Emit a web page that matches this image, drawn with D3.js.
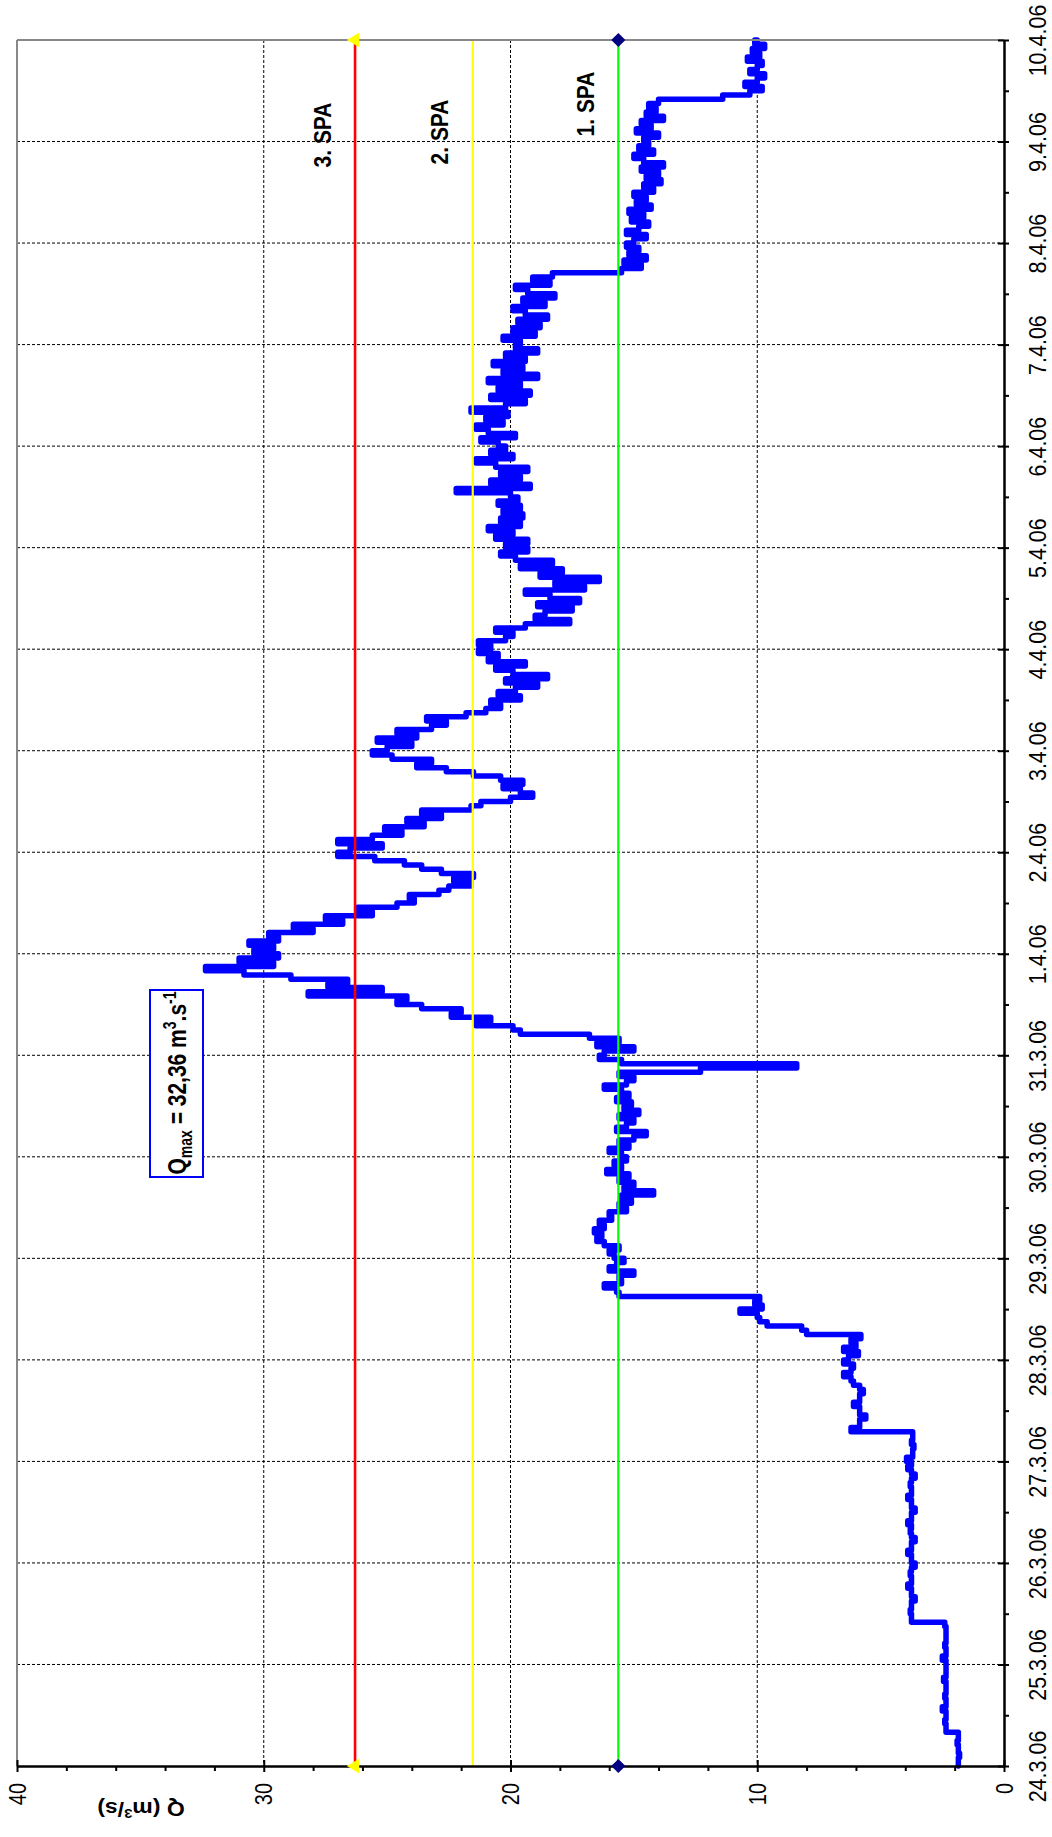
<!DOCTYPE html>
<html>
<head>
<meta charset="utf-8">
<script src="https://cdn.jsdelivr.net/npm/d3@7"></script>
<style>
  body { margin: 0; background: #fff; }
  svg { display: block; }
</style>
</head>
<body>
<svg id="chart" width="1052" height="1837"></svg>
<script>
// Period covered by the hydrograph (hourly readings, UTC to avoid DST jumps)
const startDate = new Date(Date.UTC(2006, 2, 24));
const endDate = new Date(Date.UTC(2006, 3, 10));

// Discharge Q (m3/s), one value per hour, one row per day starting 24.3.06 00:00
const discharge = [
  1.85,1.85,1.8,1.85,1.85,1.9,1.85,1.85,2.35,2.35,2.4,2.35,2.35,2.5,2.35,2.35,2.4,2.35,2.35,2.35,2.45,2.35,2.35,2.35,
  2.35,2.5,2.35,2.35,2.4,2.35,2.35,2.35,2.35,2.4,3.75,3.75,3.8,3.75,3.75,3.6,3.75,3.75,3.9,3.75,3.75,3.8,3.75,3.6,
  3.75,3.75,3.9,3.75,3.75,3.6,3.75,3.8,3.75,3.9,3.75,3.75,3.6,3.75,3.75,3.9,3.75,3.75,3.8,3.75,3.6,3.75,3.9,3.75,
  3.95,3.7,3.7,3.65,3.75,3.7,3.7,6.2,5.85,5.85,5.6,5.85,5.85,6.1,5.85,5.85,5.7,5.85,6.1,6.2,6.5,6.2,6.1,6.5,
  6.3,5.9,6.5,6.0,6.2,5.8,8.0,8.2,9.6,9.9,10.0,10.7,9.8,10.1,9.9,15.6,15.7,16.2,15.5,15.6,15.0,16.0,15.7,15.4,
  15.8,16.0,15.6,16.2,16.5,16.3,16.6,16.2,16.4,15.9,16.0,15.3,15.6,15.1,15.5,14.2,15.4,15.0,15.6,15.2,16.1,15.5,15.8,15.3,
  15.5,16.0,15.2,15.6,15.0,14.5,15.7,15.3,15.0,15.6,14.8,15.4,15.1,15.7,15.2,15.5,16.2,15.3,15.0,15.6,12.3,8.4,15.5,16.4,
  16.2,15.0,16.5,15.6,16.8,19.6,19.9,21.4,20.8,22.4,22.0,23.6,24.6,24.2,28.2,25.2,27.4,26.6,28.9,30.8,32.36,29.6,31.0,29.4,
  30.4,29.6,30.6,29.4,29.8,28.0,28.8,26.8,27.5,25.6,26.2,24.6,23.9,24.1,22.9,22.5,21.6,22.3,21.5,22.8,23.6,24.3,25.5,27.0,
  26.5,25.2,27.0,25.6,24.4,25.1,23.5,24.2,22.8,23.6,21.6,21.2,20.0,19.1,19.6,20.3,19.5,20.4,21.5,22.6,23.8,23.2,24.8,25.6,
  25.0,24.0,25.4,23.8,24.6,23.2,22.6,23.4,21.8,21.0,20.4,20.8,19.6,20.5,19.8,18.9,20.2,18.5,19.9,20.6,19.4,20.9,20.5,21.3,
  20.8,21.3,20.2,19.9,20.6,19.4,17.6,19.0,18.6,17.5,18.9,17.2,18.4,19.4,17.0,18.2,16.4,18.8,17.9,19.6,18.3,19.8,20.4,19.3,
  20.2,19.3,20.6,19.9,20.9,19.6,20.4,19.5,20.3,19.6,20.5,19.7,20.0,22.2,19.2,20.8,19.6,20.4,19.3,20.6,21.4,19.9,20.8,20.2,
  20.5,21.2,19.8,20.9,21.4,20.3,21.0,20.1,21.6,20.2,19.4,20.8,19.2,20.5,19.6,20.9,18.9,20.3,19.5,20.7,19.4,20.2,18.9,19.8,
  19.6,20.3,19.0,19.9,18.8,19.7,18.5,19.4,19.9,18.6,19.5,18.2,19.3,19.8,18.4,19.1,18.3,15.5,14.7,15.4,14.5,15.2,14.8,15.3,
  15.0,14.5,15.3,14.8,14.4,15.1,14.6,15.2,14.3,14.9,14.5,15.0,14.2,14.6,13.9,14.5,14.0,14.7,13.8,14.6,15.0,14.2,14.8,14.4,
  14.6,14.0,14.9,14.3,14.7,13.8,14.5,14.1,14.4,14.0,11.4,10.3,9.8,10.5,10.0,9.7,10.3,10.0,9.8,10.4,9.9,10.2,9.7,10.1,
  10.0
];

// Flood alert thresholds (stupně povodňové aktivity)
const spaLabels = ["1. SPA", "2. SPA", "3. SPA"];
const spaValues = [15.63, 21.53, 26.3];

// Value-axis ticks
const qTicks = [0, 10, 20, 30, 40];
const qMinorTicks = [2, 4, 6, 8, 12, 14, 16, 18, 22, 24, 26, 28, 32, 34, 36, 38];

// ---- layout ----
const plot = { left: 17, right: 1004, top: 40, bottom: 1766 };
const stretch = 1.15;               // glyphs are slightly wider across the page
const font = "'Liberation Sans', Arial, sans-serif";

const svg = d3.select("#chart");

// Q runs right-to-left along the bottom, time runs bottom-to-top
const x = d3.scaleLinear().domain([0, 40]).range([plot.right, plot.left]);
const y = d3.scaleUtc().domain([startDate, endDate]).range([plot.bottom, plot.top]);

const series = discharge.map((q, i) => ({ t: d3.utcHour.offset(startDate, i), q }));
const qMax = d3.max(discharge);
const commaLocale = d3.formatLocale({ decimal: ",", thousands: " ", grouping: [3], currency: ["", ""] });

// ---- gridlines ----
const grid = svg.append("g").attr("stroke", "#000").attr("stroke-width", 1)
  .attr("stroke-dasharray", "3,2");
const days = d3.utcDay.range(d3.utcDay.offset(startDate, 1), endDate);
grid.selectAll("line.h").data(days).join("line").attr("class", "h")
  .attr("x1", plot.left).attr("x2", plot.right)
  .attr("y1", d => y(d)).attr("y2", d => y(d));
grid.selectAll("line.v").data(qTicks.filter(q => q > 0 && q < 40)).join("line").attr("class", "v")
  .attr("x1", d => x(d)).attr("x2", d => x(d))
  .attr("y1", plot.top).attr("y2", plot.bottom);

// ---- discharge line (each hourly reading held until the next one) ----
const line = d3.line().x(d => x(d.q)).y(d => y(d.t)).curve(d3.curveStepBefore);
svg.append("path").datum(series)
  .attr("d", line)
  .attr("fill", "none").attr("stroke", "#0000ff").attr("stroke-width", 5.5)
  .attr("stroke-linejoin", "round").attr("stroke-linecap", "round");

// ---- threshold lines ----
const spaColors = ["#00ff00", "#ffff00", "#ff0000"];
const spaWidths = [2.2, 2.2, 2.6];
svg.append("g").selectAll("line").data(spaValues).join("line")
  .attr("x1", d => x(d)).attr("x2", d => x(d))
  .attr("y1", plot.top).attr("y2", plot.bottom)
  .attr("stroke", (d, i) => spaColors[i]).attr("stroke-width", (d, i) => spaWidths[i]);

// ---- frame (grey top / left) ----
svg.append("line").attr("x1", plot.left).attr("x2", plot.right).attr("y1", plot.top).attr("y2", plot.top)
  .attr("stroke", "#888").attr("stroke-width", 2);
svg.append("line").attr("x1", plot.left).attr("x2", plot.left).attr("y1", plot.top).attr("y2", plot.bottom)
  .attr("stroke", "#888").attr("stroke-width", 2);

// ---- Q axis (bottom) ----
const gx = svg.append("g").attr("transform", `translate(0,${plot.bottom})`)
  .call(d3.axisBottom(x).tickValues(qTicks).tickSizeInner(6).tickSizeOuter(0).tickFormat(d3.format("d")))
  .attr("font-family", font).attr("font-size", 20);
gx.select(".domain").attr("stroke", "#000").attr("stroke-width", 2.5);
gx.selectAll(".tick line").attr("y1", -6).attr("stroke", "#000").attr("stroke-width", 2);
gx.selectAll(".tick text")
  .attr("x", 0).attr("y", 0).attr("dy", "0.35em")
  .attr("fill", "#000").attr("text-anchor", "end")
  .attr("transform", `translate(0,17) scale(${stretch},1) rotate(-90)`);

svg.append("g").attr("transform", `translate(0,${plot.bottom})`)
  .call(d3.axisBottom(x).tickValues(qMinorTicks).tickSize(5).tickFormat(() => ""))
  .call(g => g.select(".domain").remove())
  .call(g => g.selectAll(".tick line").attr("stroke", "#000").attr("stroke-width", 2));

// ---- date axis (right) ----
const gy = svg.append("g").attr("transform", `translate(${plot.right},0)`)
  .call(d3.axisRight(y).ticks(d3.utcDay.every(1)).tickSizeInner(5).tickSizeOuter(0)
    .tickFormat(d3.utcFormat("%-d.%-m.%y")))
  .attr("font-family", font).attr("font-size", 21.5);
gy.select(".domain").attr("stroke", "#000").attr("stroke-width", 2.5);
gy.selectAll(".tick line").attr("x1", -6).attr("stroke", "#000").attr("stroke-width", 2);
gy.selectAll(".tick text")
  .attr("x", 0).attr("y", 0).attr("dy", "0.35em")
  .attr("fill", "#000").attr("text-anchor", "middle")
  .attr("transform", `translate(33,0) scale(${stretch},1) rotate(-90)`);

const halfDays = d3.utcHour.every(12).range(startDate, endDate).filter(d => d.getUTCHours() === 12);
svg.append("g").attr("transform", `translate(${plot.right},0)`)
  .call(d3.axisRight(y).tickValues(halfDays).tickSize(5).tickFormat(() => ""))
  .call(g => g.select(".domain").remove())
  .call(g => g.selectAll(".tick line").attr("stroke", "#000").attr("stroke-width", 2));

// ---- threshold end markers ----
const ends = [startDate, endDate];
svg.append("g").selectAll("path").data(ends).join("path")
  .attr("d", d3.symbol(d3.symbolSquare, 100))
  .attr("transform", d => `translate(${x(spaValues[0])},${y(d)}) rotate(45)`)
  .attr("fill", "#000080");
svg.append("g").selectAll("path").data(ends).join("path")
  .attr("d", d3.symbol(d3.symbolTriangle, 90))
  .attr("transform", d => `translate(${x(spaValues[2])},${y(d)}) rotate(-90)`)
  .attr("fill", "#ffff00");

// ---- threshold labels ----
const spaLabelY = [104, 132, 135];
svg.append("g").attr("font-family", font).attr("font-size", 21).attr("font-weight", "bold")
  .selectAll("text").data(spaLabels).join("text")
  .attr("transform", (d, i) => `translate(${x(spaValues[i]) - 33},${spaLabelY[i]}) scale(${stretch},1) rotate(-90)`)
  .attr("text-anchor", "middle").attr("dy", "0.35em")
  .text(d => d);

// ---- axis title ----
const title = svg.append("text")
  .attr("transform", `translate(141,1809) scale(${stretch},1) rotate(180)`)
  .attr("font-family", font).attr("font-size", 20).attr("font-weight", "bold")
  .attr("text-anchor", "middle").attr("dy", "0.35em");
title.append("tspan").text("Q (m");
title.append("tspan").attr("font-size", 13).attr("dy", -7).text("3");
title.append("tspan").attr("dy", 7).text("/s)");

// ---- peak annotation ----
svg.append("rect").attr("x", 150).attr("y", 990).attr("width", 53).attr("height", 187)
  .attr("fill", "#fff").attr("stroke", "#0000ff").attr("stroke-width", 2);
const peak = svg.append("text")
  .attr("transform", `translate(177,1083) scale(1.25,1) rotate(-90)`)
  .attr("font-family", font).attr("font-size", 21).attr("font-weight", "bold")
  .attr("text-anchor", "middle").attr("dy", "0.35em");
peak.append("tspan").text("Q");
peak.append("tspan").attr("font-size", 14).attr("dy", 5).text("max");
peak.append("tspan").attr("dy", -5).text(` = ${commaLocale.format(".2f")(qMax)} m`);
peak.append("tspan").attr("font-size", 14).attr("dy", -8).text("3");
peak.append("tspan").attr("dy", 8).text(".s");
peak.append("tspan").attr("font-size", 14).attr("dy", -8).text("-1");
</script>
</body>
</html>
